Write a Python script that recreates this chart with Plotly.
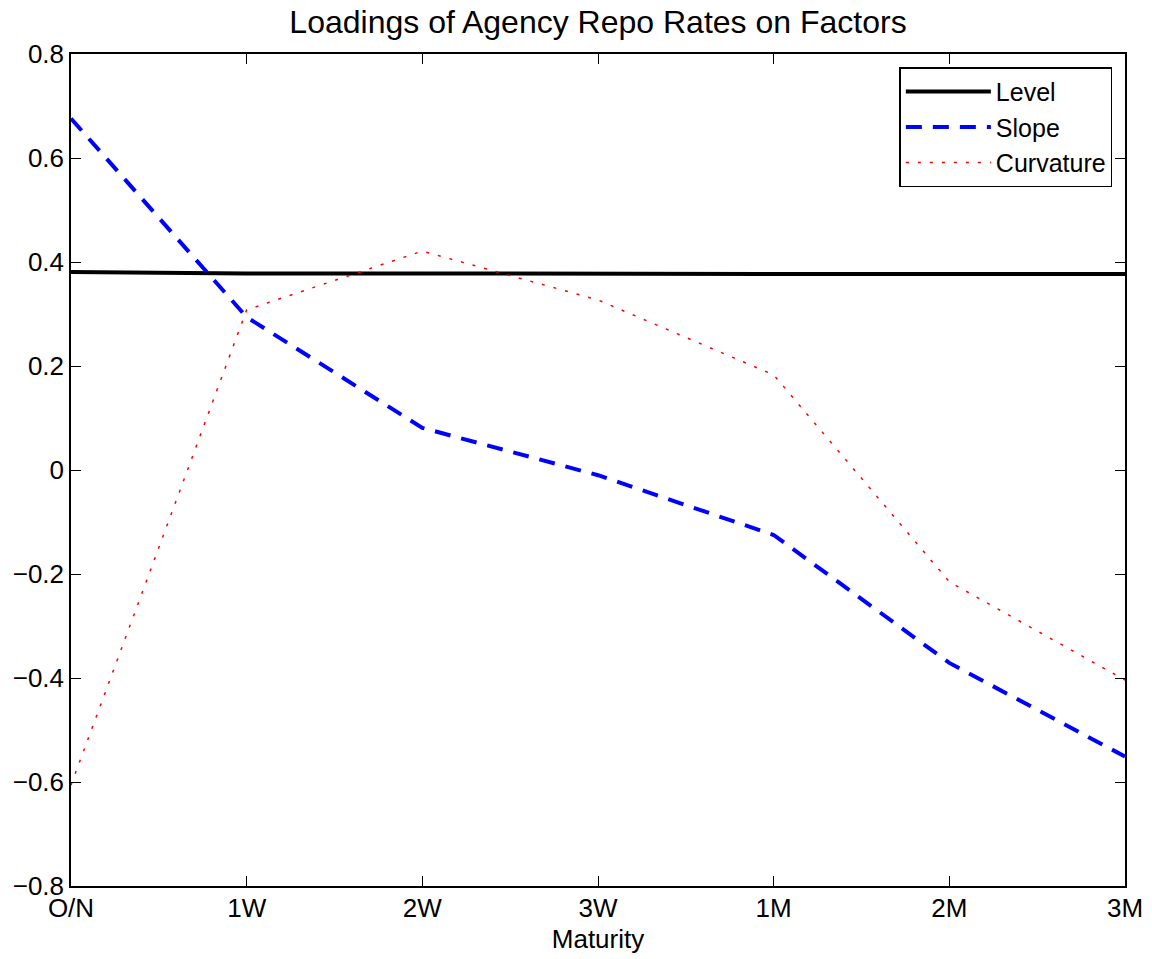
import plotly.graph_objects as go

maturities = ["O/N", "1W", "2W", "3W", "1M", "2M", "3M"]
level = [0.381, 0.378, 0.378, 0.377, 0.377, 0.377, 0.377]
slope = [0.676, 0.294, 0.081, -0.010, -0.125, -0.371, -0.551]
curvature = [-0.606, 0.308, 0.421, 0.327, 0.183, -0.215, -0.404]
y_ticks = [-0.8, -0.6, -0.4, -0.2, 0, 0.2, 0.4, 0.6, 0.8]
y_tick_text = ["\u22120.8", "\u22120.6", "\u22120.4", "\u22120.2", "0", "0.2", "0.4", "0.6", "0.8"]

fig = go.Figure()
fig.add_trace(go.Scatter(x=maturities, y=level, mode="lines", name="Level",
                         line=dict(color="black", width=4)))
fig.add_trace(go.Scatter(x=maturities, y=slope, mode="lines", name="Slope",
                         line=dict(color="blue", width=4, dash="16px,11px")))
fig.add_trace(go.Scatter(x=maturities, y=curvature, mode="lines", name="Curvature",
                         line=dict(color="red", width=1.5, dash="3px,9px")))

font = "Liberation Sans, Arial, sans-serif"
fig.update_layout(
    width=1152, height=959,
    margin=dict(l=71, r=27, t=54, b=73, autoexpand=False),
    paper_bgcolor="white", plot_bgcolor="white",
    font=dict(family=font, size=27, color="black"),
    title=dict(text="Loadings of Agency Repo Rates on Factors", x=0.5, xref="paper",
               xanchor="center", y=0.977, yanchor="middle", font=dict(size=32, family=font)),
    showlegend=True,
    legend=dict(x=0.988, y=0.984, xanchor="right", yanchor="top",
                bordercolor="black", borderwidth=1.5, bgcolor="white",
                font=dict(size=25, family=font), tracegroupgap=0, itemwidth=85),
    xaxis=dict(type="category", range=[0, 6], showgrid=False, zeroline=False,
               showline=True, linecolor="black", linewidth=1.5, mirror="ticks",
               ticks="inside", ticklen=10, tickcolor="black", automargin=False,
               ticklabelstandoff=-2,
               tickfont=dict(size=26), title=dict(text="Maturity", font=dict(size=26), standoff=8)),
    yaxis=dict(range=[-0.8, 0.8], tickvals=y_ticks, ticktext=y_tick_text,
               showgrid=False, zeroline=False, automargin=False,
               showline=True, linecolor="black", linewidth=1.5, mirror="ticks",
               ticks="inside", ticklen=10, tickcolor="black",
               tickfont=dict(size=26)),
)
fig.write_html("out.html")
